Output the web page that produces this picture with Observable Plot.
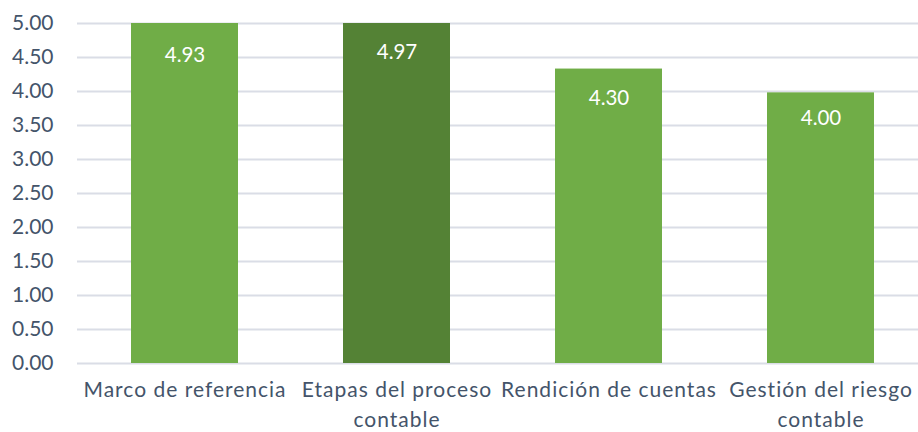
<!DOCTYPE html>
<html>
<head>
<meta charset="utf-8">
<script src="https://cdn.jsdelivr.net/npm/d3@7"></script>
<script src="https://cdn.jsdelivr.net/npm/@observablehq/plot@0.6"></script>
<style>
  html, body { margin: 0; padding: 0; background: #fff; overflow: hidden; }
  #chart { width: 918px; height: 432px; }
  [aria-label="x-axis tick label"] { letter-spacing: 1px; }
</style>
</head>
<body>
<div id="chart"></div>
<script>
const categories = ["Marco de referencia", "Etapas del proceso\ncontable", "Rendición de cuentas", "Gestión del riesgo\ncontable"];
const barHeights = [5.00, 5.00, 4.33, 3.98];
const labelValues = [4.93, 4.97, 4.30, 4.00];
const colors = ["#70AD47", "#548235", "#70AD47", "#70AD47"];
const yTicks = [0, 0.5, 1, 1.5, 2, 2.5, 3, 3.5, 4, 4.5, 5];

const data = categories.map((c, i) => ({cat: c, v: barHeights[i], lv: labelValues[i], color: colors[i]}));

const chart = Plot.plot({
  width: 918,
  height: 432,
  marginLeft: 77,
  marginRight: -10,
  marginTop: 23,
  marginBottom: 69,
  style: {fontFamily: "Lato, sans-serif", fontSize: "21px", color: "#44546A", overflow: "visible"},
  x: {domain: categories, paddingInner: 0.496, paddingOuter: 0.25, label: null},
  y: {domain: [0, 5], label: null},
  marks: [
    Plot.ruleY(yTicks, {stroke: "#DADDE6", strokeWidth: 2}),
    Plot.barY(data, {x: "cat", y: "v", fill: "color"}),
    Plot.text(data, {x: "cat", y: "lv", text: d => d.lv.toFixed(2), fill: "white", dy: 27, fontSize: 20.5, lineAnchor: "middle"}),
    Plot.axisY({ticks: yTicks, tickFormat: d => d.toFixed(2), tickSize: 0, tickPadding: 24, fontSize: 21, fill: "#44546A", label: null}),
    Plot.axisX({tickSize: 0, tickPadding: 13, fontSize: 21, fill: "#44546A", lineHeight: 1.4, lineAnchor: "top", label: null})
  ]
});
document.getElementById("chart").appendChild(chart);
</script>
</body>
</html>
